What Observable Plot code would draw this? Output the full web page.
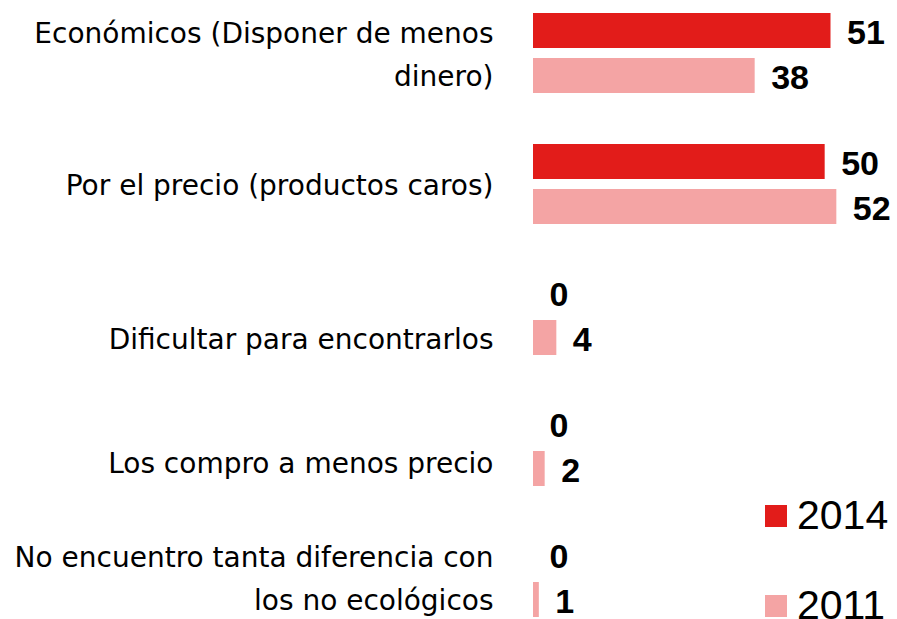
<!DOCTYPE html>
<html>
<head>
<meta charset="utf-8">
<script src="https://cdn.jsdelivr.net/npm/d3@7"></script>
<script src="https://cdn.jsdelivr.net/npm/@observablehq/plot@0.6"></script>
<style>
  html, body { margin: 0; padding: 0; background: #fff; }
  #wrap { position: relative; width: 897px; height: 619px; overflow: hidden; }
  .lg { position: absolute; display: flex; align-items: center; font-family: "Liberation Sans", Arial, sans-serif; font-size: 41px; color: #000; line-height: 1; }
  .lg i { display: inline-block; width: 22px; height: 22px; margin-right: 10px; }
</style>
</head>
<body>
<div id="wrap"></div>
<script>
const categories = [
  "Económicos (Disponer de menos\ndinero)",
  "Por el precio (productos caros)",
  "Dificultar para encontrarlos",
  "Los compro a menos precio",
  "No encuentro tanta diferencia con\nlos no ecológicos"
];
const years = ["2014", "2011"];
const values2014 = [51, 50, 0, 0, 0];
const values2011 = [38, 52, 4, 2, 1];
const colors = ["#E21C1A", "#F4A4A4"];

const rows = [];
categories.forEach((c, i) => {
  rows.push({category: c, year: "2014", value: values2014[i]});
  rows.push({category: c, year: "2011", value: values2011[i]});
});

// labels for categories whose 2014 value is nil sit beside the 2011 bar
const centered = categories.filter((c, i) => !(i === 2 || i === 3));
const besideBar = categories.filter((c, i) => i === 2 || i === 3);
const besideShift = {[categories[2]]: -3, [categories[3]]: -10};

const labelFont = "'DejaVu Sans', sans-serif";

const chart = Plot.plot({
  width: 897,
  height: 619,
  marginLeft: 533,
  marginRight: 14,
  marginTop: 13,
  marginBottom: 2,
  style: {background: "transparent"},
  x: {domain: [0, 60], axis: null},
  y: {domain: years, axis: null, paddingInner: 10 / 45, paddingOuter: 0},
  fy: {domain: categories, axis: null, paddingInner: 51 / 131, paddingOuter: 0},
  color: {domain: years, range: colors},
  marks: [
    Plot.barX(rows, {x: "value", y: "year", fy: "category", fill: "year"}),
    Plot.text(rows, {
      x: "value", y: "year", fy: "category", text: d => String(d.value),
      textAnchor: "start", dx: 16, dy: 2,
      fontSize: 34, fontWeight: "bold", fontFamily: "'Liberation Sans', Arial, sans-serif", fill: "#000"
    }),
    Plot.text(centered, {
      fy: d => d, text: d => d, frameAnchor: "left", textAnchor: "end", dx: -40, dy: -3,
      fontSize: 28, lineHeight: 1.54, fontFamily: labelFont, fill: "#000"
    }),
    ...besideBar.map(c => Plot.text([c], {
      fy: d => d, y: () => "2011", text: d => d, frameAnchor: "left", textAnchor: "end", dx: -40, dy: besideShift[c],
      fontSize: 28, lineHeight: 1.54, fontFamily: labelFont, fill: "#000"
    }))
  ]
});

const wrap = document.getElementById("wrap");
wrap.appendChild(chart);

const legendTops = [495, 585];
years.forEach((yr, i) => {
  const el = document.createElement("div");
  el.className = "lg";
  el.style.left = "765px";
  el.style.top = legendTops[i] + "px";
  el.innerHTML = `<i style="background:${colors[i]}"></i><span>${yr}</span>`;
  wrap.appendChild(el);
});
</script>
</body>
</html>
